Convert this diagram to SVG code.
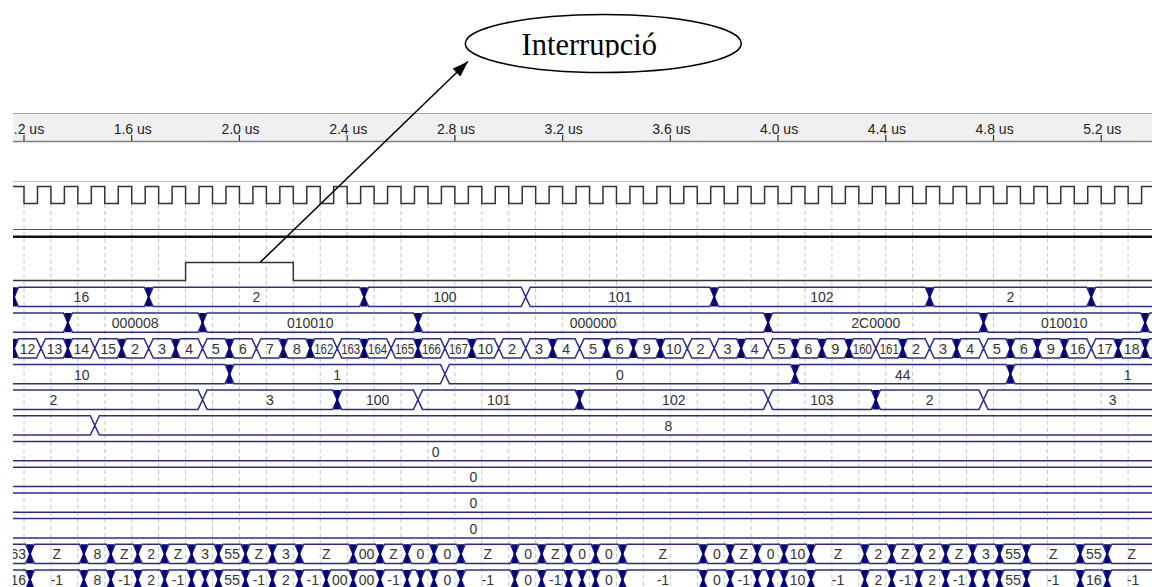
<svg xmlns="http://www.w3.org/2000/svg" width="1152" height="587" viewBox="0 0 1152 587">
<defs>
<style>
.lb{font-family:"Liberation Sans",Arial,sans-serif;font-size:14px;fill:#333;text-anchor:middle}
.ax{font-family:"Liberation Sans",Arial,sans-serif;font-size:14px;fill:#222}
.w{fill:none;stroke:#2c2c90;stroke-width:1.5}
.sig{fill:none;stroke:#333;stroke-width:1.5}
</style>
<clipPath id="wa"><rect x="13" y="100" width="1139" height="487"/></clipPath>
<clipPath id="tc"><rect x="400" y="0" width="400" height="57.5"/></clipPath>
<path id="bx" d="M-3.5,0H3.5L1,9.65L3.5,19.3H-3.5L-1,9.65Z" fill="#06067a"/>
<marker id="ah" viewBox="0 0 16 11" refX="16" refY="5.5" markerWidth="16" markerHeight="11" markerUnits="userSpaceOnUse" orient="auto"><path d="M0,0L16,5.5L0,11Z" fill="#000"/></marker>
</defs>
<rect width="1152" height="587" fill="#fff"/>
<g id="waves" clip-path="url(#wa)">
<g id="time-axis">
<rect x="13" y="113" width="1139" height="29" fill="#f0f0f0"/>
<path d="M13,113.5H1152" stroke="#a8a8a8"/>
<path d="M13,141.5H1152" stroke="#808080" stroke-width="1.5"/>
<path d="M24,135v6M131.7,135v6M239.4,135v6M347.2,135v6M454.9,135v6M562.6,135v6M670.3,135v6M778,135v6M885.8,135v6M993.5,135v6M1101.2,135v6" stroke="#333" stroke-width="1.2"/>
<text class="ax" x="13.8" y="134">.2 us</text>
<text class="ax" x="113.7" y="134">1.6 us</text>
<text class="ax" x="221.4" y="134">2.0 us</text>
<text class="ax" x="329.2" y="134">2.4 us</text>
<text class="ax" x="436.9" y="134">2.8 us</text>
<text class="ax" x="544.6" y="134">3.2 us</text>
<text class="ax" x="652.3" y="134">3.6 us</text>
<text class="ax" x="760" y="134">4.0 us</text>
<text class="ax" x="867.8" y="134">4.4 us</text>
<text class="ax" x="975.5" y="134">4.8 us</text>
<text class="ax" x="1083.2" y="134">5.2 us</text>
</g>
<path d="M13,181.5H1152" stroke="#bdbdbd"/>
<path id="grid" fill="none" stroke="#c6c6c6" stroke-dasharray="4,3" d="M24,204v383m26.93,-383v383m26.93,-383v383m26.93,-383v383m26.93,-383v383m26.93,-383v383m26.93,-383v383m26.93,-383v383m26.93,-383v383m26.93,-383v383m26.93,-383v383m26.93,-383v383m26.93,-383v383m26.93,-383v383m26.93,-383v383m26.93,-383v383m26.93,-383v383m26.93,-383v383m26.93,-383v383m26.93,-383v383m26.93,-383v383m26.93,-383v383m26.93,-383v383m26.93,-383v383m26.93,-383v383m26.93,-383v383m26.93,-383v383m26.93,-383v383m26.93,-383v383m26.93,-383v383m26.93,-383v383m26.93,-383v383m26.93,-383v383m26.93,-383v383m26.93,-383v383m26.93,-383v383m26.93,-383v383m26.93,-383v383m26.93,-383v383m26.93,-383v383m26.93,-383v383m26.93,-383v383"/>
<path id="clock" class="sig" d="M13,186.5H24V203.5
h13.465V186.5h13.465V203.5 h13.465V186.5h13.465V203.5 h13.465V186.5h13.465V203.5 h13.465V186.5h13.465V203.5 h13.465V186.5h13.465V203.5 h13.465V186.5h13.465V203.5 h13.465V186.5h13.465V203.5
h13.465V186.5h13.465V203.5 h13.465V186.5h13.465V203.5 h13.465V186.5h13.465V203.5 h13.465V186.5h13.465V203.5 h13.465V186.5h13.465V203.5 h13.465V186.5h13.465V203.5 h13.465V186.5h13.465V203.5
h13.465V186.5h13.465V203.5 h13.465V186.5h13.465V203.5 h13.465V186.5h13.465V203.5 h13.465V186.5h13.465V203.5 h13.465V186.5h13.465V203.5 h13.465V186.5h13.465V203.5 h13.465V186.5h13.465V203.5
h13.465V186.5h13.465V203.5 h13.465V186.5h13.465V203.5 h13.465V186.5h13.465V203.5 h13.465V186.5h13.465V203.5 h13.465V186.5h13.465V203.5 h13.465V186.5h13.465V203.5 h13.465V186.5h13.465V203.5
h13.465V186.5h13.465V203.5 h13.465V186.5h13.465V203.5 h13.465V186.5h13.465V203.5 h13.465V186.5h13.465V203.5 h13.465V186.5h13.465V203.5 h13.465V186.5h13.465V203.5 h13.465V186.5h13.465V203.5
h13.465V186.5h13.465V203.5 h13.465V186.5h13.465V203.5 h13.465V186.5h13.465V203.5 h13.465V186.5h13.465V203.5 h13.465V186.5h13.465V203.5 h13.465V186.5h13.465V203.5 h13.465V186.5h13.465V203.5
h13.465V186.5h13.465V203.5"/>
<path id="sig-a" d="M13,229.5H1152" stroke="#555" stroke-width="1.2"/>
<path id="sig-b" d="M13,236.8H1152" stroke="#111" stroke-width="2.4"/>
<path id="irq" class="sig" d="M13,280.5H185.6V262.5H293.3V280.5H1152"/>

<g id="bus1" transform="translate(0,287.3)">
<path class="w" d="M-85.96,9.65l4.5,-9.65h91l4.5,9.65l-4.5,9.65h-91zm100,0l4.5,-9.65h125.65l4.5,9.65l-4.5,9.65h-125.65zm134.65,0l4.5,-9.65h206.44l4.5,9.65l-4.5,9.65h-206.44zm215.44,0l4.5,-9.65h152.58l4.5,9.65l-4.5,9.65h-152.58zm161.58,0l4.5,-9.65h179.51l4.5,9.65l-4.5,9.65h-179.51zm188.51,0l4.5,-9.65h206.44l4.5,9.65l-4.5,9.65h-206.44zm215.44,0l4.5,-9.65h152.58l4.5,9.65l-4.5,9.65h-152.58zm161.58,0l4.5,-9.65h200l4.5,9.65l-4.5,9.65h-200z"/>
<use href="#bx" x="14.04"/><use href="#bx" x="148.69"/><use href="#bx" x="364.13"/><use href="#bx" x="714.22"/><use href="#bx" x="929.66"/><use href="#bx" x="1091.24"/>
<text class="lb" x="81.4" y="15.2">16</text><text class="lb" x="256.4" y="15.2">2</text><text class="lb" x="444.9" y="15.2">100</text><text class="lb" x="620" y="15.2">101</text><text class="lb" x="821.9" y="15.2">102</text><text class="lb" x="1010.5" y="15.2">2</text>
</g>

<g id="bus2" transform="translate(0,313)">
<path class="w" d="M-82.1,9.65l4.5,-9.65h141l4.5,9.65l-4.5,9.65h-141zm150,0l4.5,-9.65h125.65l4.5,9.65l-4.5,9.65h-125.65zm134.65,0l4.5,-9.65h206.44l4.5,9.65l-4.5,9.65h-206.44zm215.44,0l4.5,-9.65h341.09l4.5,9.65l-4.5,9.65h-341.09zm350.09,0l4.5,-9.65h206.44l4.5,9.65l-4.5,9.65h-206.44zm215.44,0l4.5,-9.65h152.58l4.5,9.65l-4.5,9.65h-152.58zm161.58,0l4.5,-9.65h100l4.5,9.65l-4.5,9.65h-100z"/>
<use href="#bx" x="67.9"/><use href="#bx" x="202.55"/><use href="#bx" x="417.99"/><use href="#bx" x="768.08"/><use href="#bx" x="983.52"/><use href="#bx" x="1145.1"/>
<text class="lb" x="135.2" y="15.2">000008</text><text class="lb" x="310.3" y="15.2">010010</text><text class="lb" x="593" y="15.2">000000</text><text class="lb" x="875.8" y="15.2">2C0000</text><text class="lb" x="1064.3" y="15.2">010010</text>
</g>

<g id="bus3" transform="translate(0,338.7)">
<path class="w" d="M-15.96,9.65l4.5,-9.65h21l4.5,9.65l-4.5,9.65h-21zm30,0l4.5,-9.65h17.93l4.5,9.65l-4.5,9.65h-17.93zm26.93,0l4.5,-9.65h17.93l4.5,9.65l-4.5,9.65h-17.93zm26.93,0l4.5,-9.65h17.93l4.5,9.65l-4.5,9.65h-17.93zm26.93,0l4.5,-9.65h17.93l4.5,9.65l-4.5,9.65h-17.93zm26.93,0l4.5,-9.65h17.93l4.5,9.65l-4.5,9.65h-17.93zm26.93,0l4.5,-9.65h17.93l4.5,9.65l-4.5,9.65h-17.93zm26.93,0l4.5,-9.65h17.93l4.5,9.65l-4.5,9.65h-17.93zm26.93,0l4.5,-9.65h17.93l4.5,9.65l-4.5,9.65h-17.93zm26.93,0l4.5,-9.65h17.93l4.5,9.65l-4.5,9.65h-17.93zm26.93,0l4.5,-9.65h17.93l4.5,9.65l-4.5,9.65h-17.93zm26.93,0l4.5,-9.65h17.93l4.5,9.65l-4.5,9.65h-17.93zm26.93,0l4.5,-9.65h17.93l4.5,9.65l-4.5,9.65h-17.93zm26.93,0l4.5,-9.65h17.93l4.5,9.65l-4.5,9.65h-17.93zm26.93,0l4.5,-9.65h17.93l4.5,9.65l-4.5,9.65h-17.93zm26.93,0l4.5,-9.65h17.93l4.5,9.65l-4.5,9.65h-17.93zm26.93,0l4.5,-9.65h17.93l4.5,9.65l-4.5,9.65h-17.93zm26.93,0l4.5,-9.65h17.93l4.5,9.65l-4.5,9.65h-17.93zm26.93,0l4.5,-9.65h17.93l4.5,9.65l-4.5,9.65h-17.93zm26.93,0l4.5,-9.65h17.93l4.5,9.65l-4.5,9.65h-17.93zm26.93,0l4.5,-9.65h17.93l4.5,9.65l-4.5,9.65h-17.93zm26.93,0l4.5,-9.65h17.93l4.5,9.65l-4.5,9.65h-17.93zm26.93,0l4.5,-9.65h17.93l4.5,9.65l-4.5,9.65h-17.93zm26.93,0l4.5,-9.65h17.93l4.5,9.65l-4.5,9.65h-17.93zm26.93,0l4.5,-9.65h17.93l4.5,9.65l-4.5,9.65h-17.93zm26.93,0l4.5,-9.65h17.93l4.5,9.65l-4.5,9.65h-17.93zm26.93,0l4.5,-9.65h17.93l4.5,9.65l-4.5,9.65h-17.93zm26.93,0l4.5,-9.65h17.93l4.5,9.65l-4.5,9.65h-17.93zm26.93,0l4.5,-9.65h17.93l4.5,9.65l-4.5,9.65h-17.93zm26.93,0l4.5,-9.65h17.93l4.5,9.65l-4.5,9.65h-17.93zm26.93,0l4.5,-9.65h17.93l4.5,9.65l-4.5,9.65h-17.93zm26.93,0l4.5,-9.65h17.93l4.5,9.65l-4.5,9.65h-17.93zm26.93,0l4.5,-9.65h17.93l4.5,9.65l-4.5,9.65h-17.93zm26.93,0l4.5,-9.65h17.93l4.5,9.65l-4.5,9.65h-17.93zm26.93,0l4.5,-9.65h17.93l4.5,9.65l-4.5,9.65h-17.93zm26.93,0l4.5,-9.65h17.93l4.5,9.65l-4.5,9.65h-17.93zm26.93,0l4.5,-9.65h17.93l4.5,9.65l-4.5,9.65h-17.93zm26.93,0l4.5,-9.65h17.93l4.5,9.65l-4.5,9.65h-17.93zm26.93,0l4.5,-9.65h17.93l4.5,9.65l-4.5,9.65h-17.93zm26.93,0l4.5,-9.65h17.93l4.5,9.65l-4.5,9.65h-17.93zm26.93,0l4.5,-9.65h17.93l4.5,9.65l-4.5,9.65h-17.93zm26.93,0l4.5,-9.65h17.93l4.5,9.65l-4.5,9.65h-17.93zm26.93,0l4.5,-9.65h17.93l4.5,9.65l-4.5,9.65h-17.93zm26.93,0l4.5,-9.65h100l4.5,9.65l-4.5,9.65h-100z"/>
<use href="#bx" x="14.04"/><use href="#bx" x="67.9"/><use href="#bx" x="121.76"/><use href="#bx" x="175.62"/><use href="#bx" x="229.48"/><use href="#bx" x="283.34"/><use href="#bx" x="310.27"/><use href="#bx" x="364.13"/><use href="#bx" x="417.99"/><use href="#bx" x="471.85"/><use href="#bx" x="552.64"/><use href="#bx" x="606.5"/><use href="#bx" x="633.43"/><use href="#bx" x="660.36"/><use href="#bx" x="741.15"/><use href="#bx" x="795.01"/><use href="#bx" x="821.94"/><use href="#bx" x="848.87"/><use href="#bx" x="902.73"/><use href="#bx" x="956.59"/><use href="#bx" x="1010.45"/><use href="#bx" x="1037.38"/><use href="#bx" x="1064.31"/><use href="#bx" x="1118.17"/><use href="#bx" x="1145.1"/>
<text class="lb" x="27.51" y="15.2">12</text><text class="lb" x="54.44" y="15.2">13</text><text class="lb" x="81.37" y="15.2">14</text><text class="lb" x="108.3" y="15.2">15</text><text class="lb" x="135.23" y="15.2">2</text><text class="lb" x="162.16" y="15.2">3</text><text class="lb" x="189.09" y="15.2">4</text><text class="lb" x="216.02" y="15.2">5</text><text class="lb" x="242.95" y="15.2">6</text><text class="lb" x="269.88" y="15.2">7</text><text class="lb" x="296.81" y="15.2">8</text>
<text class="lb" x="323.74" y="15.2" textLength="19" lengthAdjust="spacingAndGlyphs">162</text><text class="lb" x="350.67" y="15.2" textLength="19" lengthAdjust="spacingAndGlyphs">163</text><text class="lb" x="377.6" y="15.2" textLength="19" lengthAdjust="spacingAndGlyphs">164</text><text class="lb" x="404.53" y="15.2" textLength="19" lengthAdjust="spacingAndGlyphs">165</text><text class="lb" x="431.46" y="15.2" textLength="19" lengthAdjust="spacingAndGlyphs">166</text><text class="lb" x="458.39" y="15.2" textLength="19" lengthAdjust="spacingAndGlyphs">167</text>
<text class="lb" x="485.32" y="15.2">10</text><text class="lb" x="512.25" y="15.2">2</text><text class="lb" x="539.18" y="15.2">3</text><text class="lb" x="566.11" y="15.2">4</text><text class="lb" x="593.04" y="15.2">5</text><text class="lb" x="619.97" y="15.2">6</text><text class="lb" x="646.9" y="15.2">9</text><text class="lb" x="673.83" y="15.2">10</text><text class="lb" x="700.76" y="15.2">2</text><text class="lb" x="727.69" y="15.2">3</text><text class="lb" x="754.62" y="15.2">4</text><text class="lb" x="781.55" y="15.2">5</text><text class="lb" x="808.48" y="15.2">6</text><text class="lb" x="835.41" y="15.2">9</text>
<text class="lb" x="862.34" y="15.2" textLength="19" lengthAdjust="spacingAndGlyphs">160</text><text class="lb" x="889.27" y="15.2" textLength="19" lengthAdjust="spacingAndGlyphs">161</text>
<text class="lb" x="916.2" y="15.2">2</text><text class="lb" x="943.13" y="15.2">3</text><text class="lb" x="970.06" y="15.2">4</text><text class="lb" x="996.99" y="15.2">5</text><text class="lb" x="1023.92" y="15.2">6</text><text class="lb" x="1050.85" y="15.2">9</text><text class="lb" x="1077.78" y="15.2">16</text><text class="lb" x="1104.71" y="15.2">17</text><text class="lb" x="1131.64" y="15.2">18</text>
</g>

<g id="bus4" transform="translate(0,364.4)">
<path class="w" d="M-200,9.65l4.5,-9.65h420.48l4.5,9.65l-4.5,9.65h-420.48zm429.48,0l4.5,-9.65h206.44l4.5,9.65l-4.5,9.65h-206.44zm215.44,0l4.5,-9.65h341.09l4.5,9.65l-4.5,9.65h-341.09zm350.09,0l4.5,-9.65h206.44l4.5,9.65l-4.5,9.65h-206.44zm215.44,0l4.5,-9.65h300l4.5,9.65l-4.5,9.65h-300z"/>
<use href="#bx" x="229.48"/><use href="#bx" x="795.01"/><use href="#bx" x="1010.45"/>
<text class="lb" x="81.7" y="15.2">10</text><text class="lb" x="337.2" y="15.2">1</text><text class="lb" x="620" y="15.2">0</text><text class="lb" x="902.7" y="15.2">44</text><text class="lb" x="1127.7" y="15.2">1</text>
</g>

<g id="bus5" transform="translate(0,390.1)">
<path class="w" d="M-200,9.65l4.5,-9.65h393.55l4.5,9.65l-4.5,9.65h-393.55zm402.55,0l4.5,-9.65h125.65l4.5,9.65l-4.5,9.65h-125.65zm134.65,0l4.5,-9.65h71.79l4.5,9.65l-4.5,9.65h-71.79zm80.79,0l4.5,-9.65h152.58l4.5,9.65l-4.5,9.65h-152.58zm161.58,0l4.5,-9.65h179.51l4.5,9.65l-4.5,9.65h-179.51zm188.51,0l4.5,-9.65h98.72l4.5,9.65l-4.5,9.65h-98.72zm107.72,0l4.5,-9.65h98.72l4.5,9.65l-4.5,9.65h-98.72zm107.72,0l4.5,-9.65h300l4.5,9.65l-4.5,9.65h-300z"/>
<use href="#bx" x="337.2"/><use href="#bx" x="579.57"/><use href="#bx" x="875.8"/>
<text class="lb" x="53.3" y="15.2">2</text><text class="lb" x="269.9" y="15.2">3</text><text class="lb" x="377.6" y="15.2">100</text><text class="lb" x="498.8" y="15.2">101</text><text class="lb" x="673.8" y="15.2">102</text><text class="lb" x="821.9" y="15.2">103</text><text class="lb" x="929.7" y="15.2">2</text><text class="lb" x="1112.7" y="15.2">3</text>
</g>

<g id="bus6" transform="translate(0,415.8)">
<path class="w" d="M-200,9.65l4.5,-9.65h285.83l4.5,9.65l-4.5,9.65h-285.83zm294.83,0l4.5,-9.65h1146.17l4.5,9.65l-4.5,9.65h-1146.17z"/>
<text class="lb" x="668.3" y="15.2">8</text>
</g>

<g id="bus7" transform="translate(0,441.5)">
<path class="w" d="M-200,9.65l4.5,-9.65h1491l4.5,9.65l-4.5,9.65h-1491z"/>
<text class="lb" x="435.7" y="15.2">0</text>
</g>
<g id="bus8" transform="translate(0,467.2)">
<path class="w" d="M-200,9.65l4.5,-9.65h1491l4.5,9.65l-4.5,9.65h-1491z"/>
<text class="lb" x="473.3" y="15.2">0</text>
</g>
<g id="bus9" transform="translate(0,492.9)">
<path class="w" d="M-200,9.65l4.5,-9.65h1491l4.5,9.65l-4.5,9.65h-1491z"/>
<text class="lb" x="473.3" y="15.2">0</text>
</g>
<g id="bus10" transform="translate(0,518.6)">
<path class="w" d="M-200,9.65l4.5,-9.65h1491l4.5,9.65l-4.5,9.65h-1491z"/>
<text class="lb" x="473.3" y="15.2">0</text>
</g>

<g id="bus11" transform="translate(0,544.3)">
<path class="w" d="M-100,9.65l4.5,-9.65h121l4.5,9.65l-4.5,9.65h-121zm130,0l4.5,-9.65h44.86l4.5,9.65l-4.5,9.65h-44.86zm53.86,0l4.5,-9.65h17.93l4.5,9.65l-4.5,9.65h-17.93zm26.93,0l4.5,-9.65h17.93l4.5,9.65l-4.5,9.65h-17.93zm26.93,0l4.5,-9.65h17.93l4.5,9.65l-4.5,9.65h-17.93zm26.93,0l4.5,-9.65h17.93l4.5,9.65l-4.5,9.65h-17.93zm26.93,0l4.5,-9.65h17.93l4.5,9.65l-4.5,9.65h-17.93zm26.93,0l4.5,-9.65h17.93l4.5,9.65l-4.5,9.65h-17.93zm26.93,0l4.5,-9.65h17.93l4.5,9.65l-4.5,9.65h-17.93zm26.93,0l4.5,-9.65h17.93l4.5,9.65l-4.5,9.65h-17.93zm26.93,0l4.5,-9.65h44.86l4.5,9.65l-4.5,9.65h-44.86zm53.86,0l4.5,-9.65h17.93l4.5,9.65l-4.5,9.65h-17.93zm26.93,0l4.5,-9.65h17.93l4.5,9.65l-4.5,9.65h-17.93zm26.93,0l4.5,-9.65h17.93l4.5,9.65l-4.5,9.65h-17.93zm26.93,0l4.5,-9.65h17.93l4.5,9.65l-4.5,9.65h-17.93zm26.93,0l4.5,-9.65h44.86l4.5,9.65l-4.5,9.65h-44.86zm53.86,0l4.5,-9.65h17.93l4.5,9.65l-4.5,9.65h-17.93zm26.93,0l4.5,-9.65h17.93l4.5,9.65l-4.5,9.65h-17.93zm26.93,0l4.5,-9.65h17.93l4.5,9.65l-4.5,9.65h-17.93zm26.93,0l4.5,-9.65h17.93l4.5,9.65l-4.5,9.65h-17.93zm26.93,0l4.5,-9.65h71.79l4.5,9.65l-4.5,9.65h-71.79zm80.79,0l4.5,-9.65h17.93l4.5,9.65l-4.5,9.65h-17.93zm26.93,0l4.5,-9.65h17.93l4.5,9.65l-4.5,9.65h-17.93zm26.93,0l4.5,-9.65h17.93l4.5,9.65l-4.5,9.65h-17.93zm26.93,0l4.5,-9.65h17.93l4.5,9.65l-4.5,9.65h-17.93zm26.93,0l4.5,-9.65h44.86l4.5,9.65l-4.5,9.65h-44.86zm53.86,0l4.5,-9.65h17.93l4.5,9.65l-4.5,9.65h-17.93zm26.93,0l4.5,-9.65h17.93l4.5,9.65l-4.5,9.65h-17.93zm26.93,0l4.5,-9.65h17.93l4.5,9.65l-4.5,9.65h-17.93zm26.93,0l4.5,-9.65h17.93l4.5,9.65l-4.5,9.65h-17.93zm26.93,0l4.5,-9.65h17.93l4.5,9.65l-4.5,9.65h-17.93zm26.93,0l4.5,-9.65h17.93l4.5,9.65l-4.5,9.65h-17.93zm26.93,0l4.5,-9.65h44.86l4.5,9.65l-4.5,9.65h-44.86zm53.86,0l4.5,-9.65h17.93l4.5,9.65l-4.5,9.65h-17.93zm26.93,0l4.5,-9.65h150l4.5,9.65l-4.5,9.65h-150z"/>
<use href="#bx" x="30"/><use href="#bx" x="83.86"/><use href="#bx" x="110.79"/><use href="#bx" x="137.72"/><use href="#bx" x="164.65"/><use href="#bx" x="191.58"/><use href="#bx" x="218.51"/><use href="#bx" x="245.44"/><use href="#bx" x="272.37"/><use href="#bx" x="299.3"/><use href="#bx" x="353.16"/><use href="#bx" x="380.09"/><use href="#bx" x="407.02"/><use href="#bx" x="433.95"/><use href="#bx" x="460.88"/><use href="#bx" x="514.74"/><use href="#bx" x="541.67"/><use href="#bx" x="568.6"/><use href="#bx" x="595.53"/><use href="#bx" x="622.46"/><use href="#bx" x="703.25"/><use href="#bx" x="730.18"/><use href="#bx" x="757.11"/><use href="#bx" x="784.04"/><use href="#bx" x="810.97"/><use href="#bx" x="864.83"/><use href="#bx" x="891.76"/><use href="#bx" x="918.69"/><use href="#bx" x="945.62"/><use href="#bx" x="972.55"/><use href="#bx" x="999.48"/><use href="#bx" x="1026.41"/><use href="#bx" x="1080.27"/><use href="#bx" x="1107.2"/>
<text class="lb" x="26" y="15.2" style="text-anchor:end">63</text>
<text class="lb" x="56.9" y="15.2">Z</text><text class="lb" x="97.3" y="15.2">8</text><text class="lb" x="124.3" y="15.2">Z</text><text class="lb" x="151.2" y="15.2">2</text><text class="lb" x="178.1" y="15.2">Z</text><text class="lb" x="205.1" y="15.2">3</text><text class="lb" x="232" y="15.2">55</text><text class="lb" x="258.9" y="15.2">Z</text><text class="lb" x="285.9" y="15.2">3</text><text class="lb" x="326.2" y="15.2">Z</text><text class="lb" x="366.6" y="15.2">00</text><text class="lb" x="393.6" y="15.2">Z</text><text class="lb" x="420.5" y="15.2">0</text><text class="lb" x="447.4" y="15.2">0</text><text class="lb" x="487.8" y="15.2">Z</text><text class="lb" x="528.2" y="15.2">0</text><text class="lb" x="555.2" y="15.2">Z</text><text class="lb" x="582.1" y="15.2">0</text><text class="lb" x="609" y="15.2">0</text><text class="lb" x="662.9" y="15.2">Z</text><text class="lb" x="716.8" y="15.2">0</text><text class="lb" x="743.7" y="15.2">Z</text><text class="lb" x="770.6" y="15.2">0</text><text class="lb" x="797.5" y="15.2">10</text><text class="lb" x="838" y="15.2">Z</text><text class="lb" x="878.3" y="15.2">2</text><text class="lb" x="905.2" y="15.2">Z</text><text class="lb" x="932.2" y="15.2">2</text><text class="lb" x="959.1" y="15.2">Z</text><text class="lb" x="986" y="15.2">3</text><text class="lb" x="1013" y="15.2">55</text><text class="lb" x="1053.3" y="15.2">Z</text><text class="lb" x="1093.7" y="15.2">55</text><text class="lb" x="1131.7" y="15.2">Z</text>
</g>

<g id="bus12" transform="translate(0,570)">
<path class="w" d="M-100,9.65l4.5,-9.65h121l4.5,9.65l-4.5,9.65h-121zm130,0l4.5,-9.65h44.86l4.5,9.65l-4.5,9.65h-44.86zm53.86,0l4.5,-9.65h17.93l4.5,9.65l-4.5,9.65h-17.93zm26.93,0l4.5,-9.65h17.93l4.5,9.65l-4.5,9.65h-17.93zm26.93,0l4.5,-9.65h17.93l4.5,9.65l-4.5,9.65h-17.93zm26.93,0l4.5,-9.65h17.93l4.5,9.65l-4.5,9.65h-17.93zm26.93,0l4.5,-9.65h4.465l4.5,9.65l-4.5,9.65h-4.465zm13.465,0l4.5,-9.65h4.465l4.5,9.65l-4.5,9.65h-4.465zm13.465,0l4.5,-9.65h17.93l4.5,9.65l-4.5,9.65h-17.93zm26.93,0l4.5,-9.65h17.93l4.5,9.65l-4.5,9.65h-17.93zm26.93,0l4.5,-9.65h17.93l4.5,9.65l-4.5,9.65h-17.93zm26.93,0l4.5,-9.65h17.93l4.5,9.65l-4.5,9.65h-17.93zm26.93,0l4.5,-9.65h17.93l4.5,9.65l-4.5,9.65h-17.93zm26.93,0l4.5,-9.65h17.93l4.5,9.65l-4.5,9.65h-17.93zm26.93,0l4.5,-9.65h17.93l4.5,9.65l-4.5,9.65h-17.93zm26.93,0l4.5,-9.65h4.465l4.5,9.65l-4.5,9.65h-4.465zm13.465,0l4.5,-9.65h4.465l4.5,9.65l-4.5,9.65h-4.465zm13.465,0l4.5,-9.65h17.93l4.5,9.65l-4.5,9.65h-17.93zm26.93,0l4.5,-9.65h44.86l4.5,9.65l-4.5,9.65h-44.86zm53.86,0l4.5,-9.65h17.93l4.5,9.65l-4.5,9.65h-17.93zm26.93,0l4.5,-9.65h17.93l4.5,9.65l-4.5,9.65h-17.93zm26.93,0l4.5,-9.65h4.465l4.5,9.65l-4.5,9.65h-4.465zm13.465,0l4.5,-9.65h4.465l4.5,9.65l-4.5,9.65h-4.465zm13.465,0l4.5,-9.65h17.93l4.5,9.65l-4.5,9.65h-17.93zm26.93,0l4.5,-9.65h71.79l4.5,9.65l-4.5,9.65h-71.79zm80.79,0l4.5,-9.65h17.93l4.5,9.65l-4.5,9.65h-17.93zm26.93,0l4.5,-9.65h17.93l4.5,9.65l-4.5,9.65h-17.93zm26.93,0l4.5,-9.65h4.465l4.5,9.65l-4.5,9.65h-4.465zm13.465,0l4.5,-9.65h4.465l4.5,9.65l-4.5,9.65h-4.465zm13.465,0l4.5,-9.65h17.93l4.5,9.65l-4.5,9.65h-17.93zm26.93,0l4.5,-9.65h44.86l4.5,9.65l-4.5,9.65h-44.86zm53.86,0l4.5,-9.65h17.93l4.5,9.65l-4.5,9.65h-17.93zm26.93,0l4.5,-9.65h17.93l4.5,9.65l-4.5,9.65h-17.93zm26.93,0l4.5,-9.65h17.93l4.5,9.65l-4.5,9.65h-17.93zm26.93,0l4.5,-9.65h17.93l4.5,9.65l-4.5,9.65h-17.93zm26.93,0l4.5,-9.65h4.465l4.5,9.65l-4.5,9.65h-4.465zm13.465,0l4.5,-9.65h4.465l4.5,9.65l-4.5,9.65h-4.465zm13.465,0l4.5,-9.65h17.93l4.5,9.65l-4.5,9.65h-17.93zm26.93,0l4.5,-9.65h44.86l4.5,9.65l-4.5,9.65h-44.86zm53.86,0l4.5,-9.65h17.93l4.5,9.65l-4.5,9.65h-17.93zm26.93,0l4.5,-9.65h150l4.5,9.65l-4.5,9.65h-150z"/>
<use href="#bx" x="30"/><use href="#bx" x="83.86"/><use href="#bx" x="110.79"/><use href="#bx" x="137.72"/><use href="#bx" x="164.65"/><use href="#bx" x="191.58"/><use href="#bx" x="205.05"/><use href="#bx" x="218.51"/><use href="#bx" x="245.44"/><use href="#bx" x="272.37"/><use href="#bx" x="299.3"/><use href="#bx" x="326.23"/><use href="#bx" x="353.16"/><use href="#bx" x="380.09"/><use href="#bx" x="407.02"/><use href="#bx" x="420.49"/><use href="#bx" x="433.95"/><use href="#bx" x="460.88"/><use href="#bx" x="514.74"/><use href="#bx" x="541.67"/><use href="#bx" x="568.6"/><use href="#bx" x="582.07"/><use href="#bx" x="595.53"/><use href="#bx" x="622.46"/><use href="#bx" x="703.25"/><use href="#bx" x="730.18"/><use href="#bx" x="757.11"/><use href="#bx" x="770.58"/><use href="#bx" x="784.04"/><use href="#bx" x="810.97"/><use href="#bx" x="864.83"/><use href="#bx" x="891.76"/><use href="#bx" x="918.69"/><use href="#bx" x="945.62"/><use href="#bx" x="972.55"/><use href="#bx" x="986.02"/><use href="#bx" x="999.48"/><use href="#bx" x="1026.41"/><use href="#bx" x="1080.27"/><use href="#bx" x="1107.2"/>
<text class="lb" x="26" y="15.2" style="text-anchor:end">16</text>
<text class="lb" x="56.9" y="15.2">-1</text><text class="lb" x="97.3" y="15.2">8</text><text class="lb" x="124.3" y="15.2">-1</text><text class="lb" x="151.2" y="15.2">2</text><text class="lb" x="178.1" y="15.2">-1</text><text class="lb" x="232" y="15.2">55</text><text class="lb" x="258.9" y="15.2">-1</text><text class="lb" x="285.9" y="15.2">2</text><text class="lb" x="312.8" y="15.2">-1</text><text class="lb" x="339.7" y="15.2">00</text><text class="lb" x="366.6" y="15.2">00</text><text class="lb" x="393.6" y="15.2">-1</text><text class="lb" x="447.4" y="15.2">0</text><text class="lb" x="487.8" y="15.2">-1</text><text class="lb" x="528.2" y="15.2">0</text><text class="lb" x="555.2" y="15.2">-1</text><text class="lb" x="609" y="15.2">0</text><text class="lb" x="662.9" y="15.2">-1</text><text class="lb" x="716.8" y="15.2">0</text><text class="lb" x="743.7" y="15.2">-1</text><text class="lb" x="797.5" y="15.2">10</text><text class="lb" x="838" y="15.2">-1</text><text class="lb" x="878.3" y="15.2">2</text><text class="lb" x="905.2" y="15.2">-1</text><text class="lb" x="932.2" y="15.2">2</text><text class="lb" x="959.1" y="15.2">-1</text><text class="lb" x="1013" y="15.2">55</text><text class="lb" x="1053.3" y="15.2">-1</text><text class="lb" x="1093.7" y="15.2">16</text><text class="lb" x="1133" y="15.2">-1</text>
</g>
</g>

<g id="connectors">
<path d="M260,262.5L468,61.5" stroke="#000" stroke-width="1.5" fill="none" marker-end="url(#ah)"/>
</g>
<g id="interrupcio">
<ellipse cx="603.3" cy="43.5" rx="138" ry="29" fill="#fff" stroke="#000" stroke-width="1.5"/>
<text x="521.5" y="55" clip-path="url(#tc)" font-family="'Liberation Serif','Times New Roman',serif" font-size="30.5" fill="#000">Interrupció</text>
</g>
</svg>
